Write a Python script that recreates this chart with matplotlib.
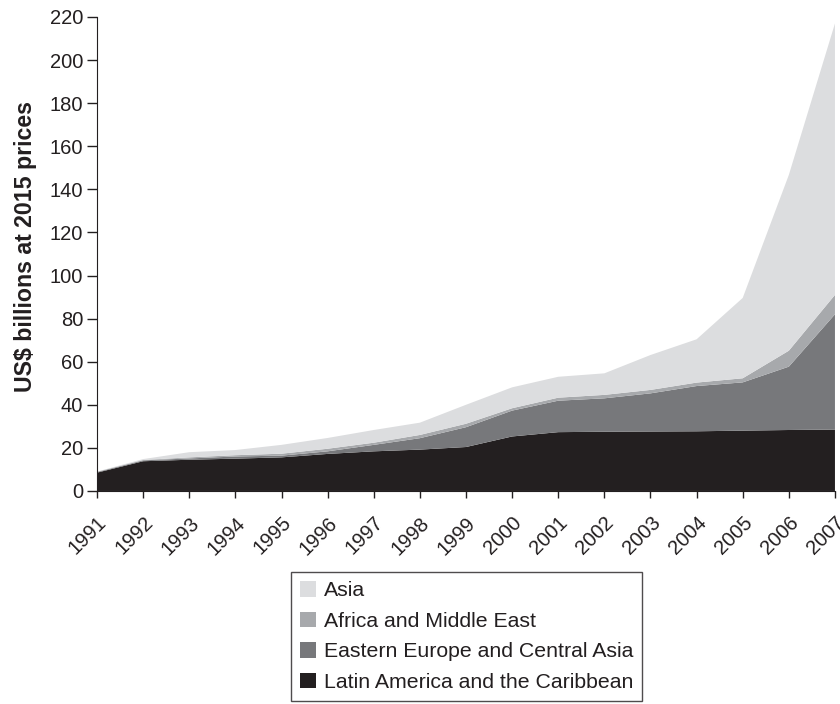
import numpy as np
import matplotlib.pyplot as plt
import matplotlib.transforms as mtransforms

plt.rcParams['font.family'] = ['Liberation Sans', 'DejaVu Sans']

# years on the x axis
years = list(range(1991, 2008))

# values per region, US$ billions (stacked order bottom -> top)
latin_america = [8.5, 13.8, 14.5, 15.0, 15.6, 17.2, 18.4, 19.2, 20.4, 25.3, 27.3, 27.5, 27.6, 27.7, 28.0, 28.3, 28.5]
eastern_europe = [0.3, 0.4, 0.6, 1.0, 0.8, 1.2, 3.0, 5.3, 9.2, 12.0, 14.6, 15.5, 17.7, 21.0, 22.4, 29.4, 53.5]
africa_me = [0.1, 0.2, 0.5, 0.6, 0.9, 1.2, 1.0, 1.5, 1.6, 1.1, 1.4, 1.6, 1.6, 1.6, 1.9, 7.4, 9.0]
asia = [0.1, 0.4, 2.4, 2.4, 4.1, 5.0, 5.9, 5.7, 8.8, 9.7, 9.7, 10.0, 16.2, 20.1, 37.3, 81.6, 126.0]

labels = ['Latin America and the Caribbean', 'Eastern Europe and Central Asia',
          'Africa and Middle East', 'Asia']
colors = ['#231f20', '#77787b', '#a7a9ac', '#dcdddf']
ink = '#231f20'

fig = plt.figure(figsize=(8.4, 7.04), dpi=100)
ax = fig.add_axes([0.1155, 0.3026, 0.8785, 0.6733])

polys = ax.stackplot(years, latin_america, eastern_europe, africa_me, asia,
                     colors=colors, labels=labels, linewidth=0)

ax.set_xlim(1991, 2007)
ax.set_ylim(0, 220)
ax.set_yticks(range(0, 221, 20))
ax.set_xticks(years)
ax.set_xticklabels([str(y) for y in years], rotation=45, ha='right',
                   rotation_mode='anchor', fontsize=14.5, color=ink)
# nudge the rotated labels a bit to the right, like the original
shift = mtransforms.ScaledTranslation(4 / 100, 0, fig.dpi_scale_trans)
for lab in ax.get_xticklabels():
    lab.set_transform(lab.get_transform() + shift)
ax.tick_params(axis='y', labelsize=14.5, length=7, width=1, colors=ink, pad=3)
ax.tick_params(axis='x', length=5, width=1, colors=ink, pad=11)
ax.spines['top'].set_visible(False)
ax.spines['right'].set_visible(False)
ax.spines['left'].set_color(ink)
ax.spines['bottom'].set_color(ink)
ax.set_ylabel('US$ billions at 2015 prices', fontsize=16.7, fontweight='bold',
              labelpad=9, color=ink)
ax.yaxis.label.set_y(0.516)

handles = polys[::-1]
leg = fig.legend(handles, labels[::-1], loc='upper center',
                 bbox_to_anchor=(0.5555, 0.187), fontsize=15.3, frameon=True,
                 fancybox=False, edgecolor=ink, handlelength=0.75,
                 handleheight=0.75, handletextpad=0.4, labelspacing=0.53,
                 borderpad=0.42, borderaxespad=0)
leg.get_frame().set_linewidth(1.0)
for t in leg.get_texts():
    t.set_color(ink)

fig.savefig('out.png', dpi=100)
